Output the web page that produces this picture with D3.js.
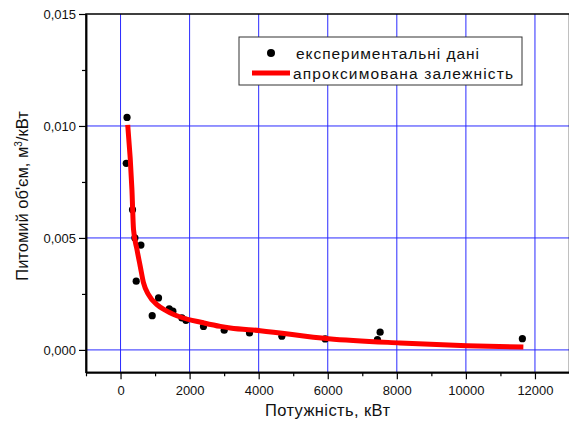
<!DOCTYPE html>
<html>
<head>
  <meta charset="utf-8">
  <title>Питомий об'єм</title>
  <script src="https://d3js.org/d3.v7.min.js"></script>
  <style>
    body { margin: 0; background: #fff; }
    text { font-family: "Liberation Sans", Arial, sans-serif; fill: #111; }
  </style>
</head>
<body>
  <svg id="chart" width="569" height="428"></svg>
  <script>
    // experimental points (power, kW / specific volume, m3/kW)
    var powerKW = [188, 165, 347, 416, 454, 590, 917, 1100, 1410, 1516,
                   1777, 1893, 2402, 3001, 3734, 4671, 5925, 7439, 7517, 11635];
    var specVolume = [0.01038, 0.00833, 0.00626, 0.00500, 0.00307, 0.00468, 0.00153, 0.00232, 0.00183, 0.00173,
                      0.00143, 0.00132, 0.00105, 0.00088, 0.00076, 0.00061, 0.00049, 0.00046, 0.00079, 0.00050];

    // approximating curve
    var fitPower = [208, 330, 376, 475, 570, 666, 810, 1054, 1343, 1728,
                    2402, 2891, 3177, 4043, 6020, 8095, 10026, 11664];
    var fitVolume = [0.01005, 0.00716, 0.00538, 0.00449, 0.00374, 0.00299, 0.00247, 0.00202, 0.00173, 0.00147,
                     0.00121, 0.00105, 0.00098, 0.00086, 0.00050, 0.00031, 0.00019, 0.00013];

    var xTicks = [0, 2000, 4000, 6000, 8000, 10000, 12000];
    var xMinor = [-1000, 1000, 3000, 5000, 7000, 9000, 11000, 13000];
    var yTicks = [0, 0.005, 0.010, 0.015];
    var yMinor = [0.0025, 0.0075, 0.0125];
    var legendLabels = ['експериментальні дані', 'апроксимована залежність'];

    var svg = d3.select('#chart');
    // plot box edges ("top" is taken by window.top, so prefixed names)
    var plotL = 86, plotR = 569.5, plotT = 14, plotB = 372.3;

    var x = d3.scaleLinear().domain([-1000, 13000]).range([plotL, plotR]);
    var y = d3.scaleLinear().domain([-0.001, 0.015]).range([plotB, plotT]);

    var uaFormat = d3.formatLocale({ decimal: ',', thousands: '', grouping: [3], currency: ['', ''] });

    // grid
    svg.append('g').selectAll('line').data(xTicks).join('line')
      .attr('x1', d => x(d)).attr('x2', d => x(d))
      .attr('y1', plotT).attr('y2', plotB)
      .attr('stroke', '#2a2aff').attr('stroke-width', 1);
    svg.append('g').selectAll('line').data(yTicks.slice(0, 3)).join('line')
      .attr('x1', plotL).attr('x2', plotR)
      .attr('y1', d => y(d)).attr('y2', d => y(d))
      .attr('stroke', '#2a2aff').attr('stroke-width', 1);

    // frame
    svg.append('rect')
      .attr('x', plotL).attr('y', plotT)
      .attr('width', plotR - plotL).attr('height', plotB - plotT)
      .attr('fill', 'none').attr('stroke', '#000').attr('stroke-width', 1.5);

    // axes
    svg.append('g').attr('transform', `translate(0,${plotB})`)
      .call(d3.axisBottom(x).tickValues(xTicks).tickSize(7).tickSizeOuter(0).tickPadding(6)
        .tickFormat(uaFormat.format('d')));
    svg.append('g').attr('transform', `translate(0,${plotB})`)
      .call(d3.axisBottom(x).tickValues(xMinor).tickSize(4).tickSizeOuter(0).tickFormat(''));
    svg.append('g').attr('transform', `translate(${plotL},0)`)
      .call(d3.axisLeft(y).tickValues(yTicks).tickSize(7).tickSizeOuter(0).tickPadding(3)
        .tickFormat(uaFormat.format('.3f')));
    svg.append('g').attr('transform', `translate(${plotL},0)`)
      .call(d3.axisLeft(y).tickValues(yMinor).tickSize(4).tickSizeOuter(0).tickFormat(''));

    svg.selectAll('.domain').attr('stroke', '#000').attr('stroke-width', 1.5);
    svg.selectAll('.tick line').attr('stroke', '#000').attr('stroke-width', 1.2);
    svg.selectAll('.tick text').attr('font-size', 13).attr('font-family', '"Liberation Sans", Arial, sans-serif')
      .attr('fill', '#111');

    // points
    svg.append('g').selectAll('circle').data(powerKW).join('circle')
      .attr('cx', d => x(d))
      .attr('cy', (d, i) => y(specVolume[i]))
      .attr('r', 3.6).attr('fill', '#000');

    // fitted curve, drawn over the points
    var fitData = fitPower.map((p, i) => ({ p: p, v: fitVolume[i] }));
    svg.append('path').datum(fitData)
      .attr('d', d3.line().x(d => x(d.p)).y(d => y(d.v)).curve(d3.curveMonotoneX))
      .attr('fill', 'none').attr('stroke', '#ff0000').attr('stroke-width', 5);

    // axis titles
    svg.append('text').attr('x', 265).attr('y', 416)
      .attr('font-size', 16.5).attr('textLength', 125).attr('lengthAdjust', 'spacing')
      .text('Потужність, кВт');
    var yTitle = svg.append('text').attr('transform', 'translate(28,196) rotate(-90)')
      .attr('text-anchor', 'middle').attr('font-size', 16.5);
    yTitle.append('tspan').text('Питомий об\'єм, м');
    yTitle.append('tspan').attr('font-size', 10).attr('dy', -6).text('3');
    yTitle.append('tspan').attr('dy', 6).text('/кВт');

    // legend
    var legend = svg.append('g');
    legend.append('rect').attr('x', 239).attr('y', 37).attr('width', 283).attr('height', 48)
      .attr('fill', '#fff').attr('stroke', '#333').attr('stroke-width', 1);
    legend.append('circle').attr('cx', 271).attr('cy', 53).attr('r', 4).attr('fill', '#000');
    legend.append('line').attr('x1', 252).attr('x2', 290).attr('y1', 73).attr('y2', 73)
      .attr('stroke', '#ff0000').attr('stroke-width', 5);
    legend.append('text').attr('x', 296).attr('y', 58.5).attr('font-size', 15.5)
      .attr('textLength', 183).attr('lengthAdjust', 'spacing').text(legendLabels[0]);
    legend.append('text').attr('x', 293).attr('y', 78.5).attr('font-size', 15.5)
      .attr('textLength', 220).attr('lengthAdjust', 'spacing').text(legendLabels[1]);
  </script>
</body>
</html>
